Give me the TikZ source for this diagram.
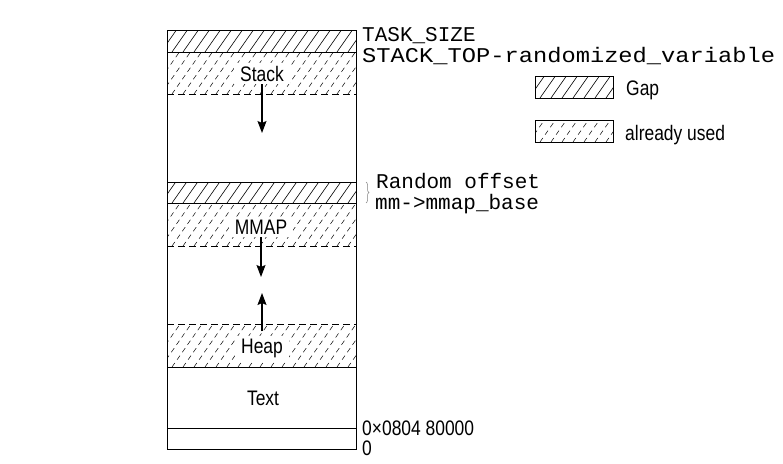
\documentclass[tikz,border=0pt]{standalone}
\usepackage{fontspec}
\usepackage{tikz}
\usetikzlibrary{arrows.meta,decorations.pathreplacing}
\newfontfamily\condfont[FakeStretch=0.83]{Liberation Sans}
\newfontfamily\codefont{Liberation Mono}
\newfontfamily\widecodefont[FakeStretch=1.13]{Liberation Mono}
% hatch a rectangle: x1, y1 (top), x2, y2 (bottom), line style
\newcommand{\hatchbox}[5]{%
  \begin{scope}
    \clip (#1,#2) rectangle (#3,#4);
    \foreach \hx in {0,11,...,253} \draw[#5] (#1-50+\hx,#4) -- ++(55:70);
  \end{scope}}

\begin{document}
\begin{tikzpicture}[x = 1pt, y = 1pt,
  lbl/.style = {font = {\condfont\fontsize{21}{25}\selectfont}},
  code/.style = {font = {\codefont\fontsize{21}{25}\selectfont}},
  widecode/.style = {font = {\widecodefont\fontsize{21}{25}\selectfont}},
  seglabel/.style = {lbl, anchor = base, fill = white, inner xsep = 6pt, inner ysep = 3pt},
  gaphatch/.style = {line width = 0.6pt},
  usedhatch/.style = {line width = 0.5pt, dash pattern = on 5pt off 4pt},
  border/.style = {line width = 0.9pt},
  limit/.style = {line width = 0.9pt, dash pattern = on 7pt off 4pt},
  growarrow/.style = {line width = 1.2pt, -{Stealth[length = 12pt, width = 9pt, inset = 2pt]}}]
\useasboundingbox (0,0) rectangle (783,-463);
% hatched bands
\hatchbox{167}{-30}{356}{-52}{gaphatch}
\hatchbox{167}{-52}{356}{-94}{usedhatch}
\hatchbox{167}{-182}{356}{-203}{gaphatch}
\hatchbox{167}{-203}{356}{-246}{usedhatch}
\hatchbox{167}{-324}{356}{-367}{usedhatch}
% segments
\node[seglabel] (stack) at (262,-81) {Stack};
\node[seglabel] (mmap) at (261,-234) {MMAP};
\node[seglabel] (heap) at (262,-353) {Heap};
\node[lbl, anchor = base] (textseg) at (263,-405) {Text};
% memory column
\draw[border] (167,-30) rectangle (356,-449);
\draw[border] (167,-52) -- (356,-52);
\draw[border] (167,-182) -- (356,-182);
\draw[border] (167,-203) -- (356,-203);
\draw[border] (167,-367) -- (356,-367);
\draw[border] (167,-428) -- (356,-428);
\draw[limit] (167,-94) -- (356,-94);
\draw[limit] (167,-246) -- (356,-246);
\draw[limit] (167,-324) -- (356,-324);
\coordinate (stackend) at (262,-133);
\coordinate (mmapend) at (261,-277);
\coordinate (heapend) at (262,-293);
\draw[growarrow] (stack.south) -- (stackend);
\draw[growarrow] (mmap.south) -- (mmapend);
\draw[growarrow] ([yshift = 4pt]heap.north) -- (heapend);
% addresses
\node[code, anchor = base west, inner sep = 0pt] (tasksize) at (362,-41) {TASK\_SIZE};
\node[widecode, anchor = base west, inner sep = 0pt] (stacktop) at (362,-62) {STACK\_TOP-randomized\_variable};
\coordinate (offtop) at (366,-182);
\coordinate (offbot) at (366,-203);
\draw[gray, line width = 0.5pt, decorate, decoration = {brace, amplitude = 3pt}] (offtop) -- (offbot);
\node[code, anchor = base west, inner sep = 0pt] (offset) at (376,-188) {Random offset};
\node[code, anchor = base west, inner sep = 0pt] (mmapbase) at (375,-209) {mm->mmap\_base};
\node[lbl, anchor = base west, inner sep = 0pt] (textstart) at (362,-435) {0×0804 80000};
\node[lbl, anchor = base west, inner sep = 0pt] (zero) at (362,-455) {0};
% legend
\hatchbox{535}{-76}{613}{-98}{gaphatch}
\hatchbox{535}{-120}{613}{-142}{usedhatch}
\draw[border] (535,-76) rectangle (613,-98);
\draw[border] (535,-120) rectangle (613,-142);
\node[lbl, anchor = base west, inner sep = 0pt] (gapkey) at (626,-95) {Gap};
\node[lbl, anchor = base west, inner sep = 0pt] (usedkey) at (625,-140) {already used};
\end{tikzpicture}
\end{document}
